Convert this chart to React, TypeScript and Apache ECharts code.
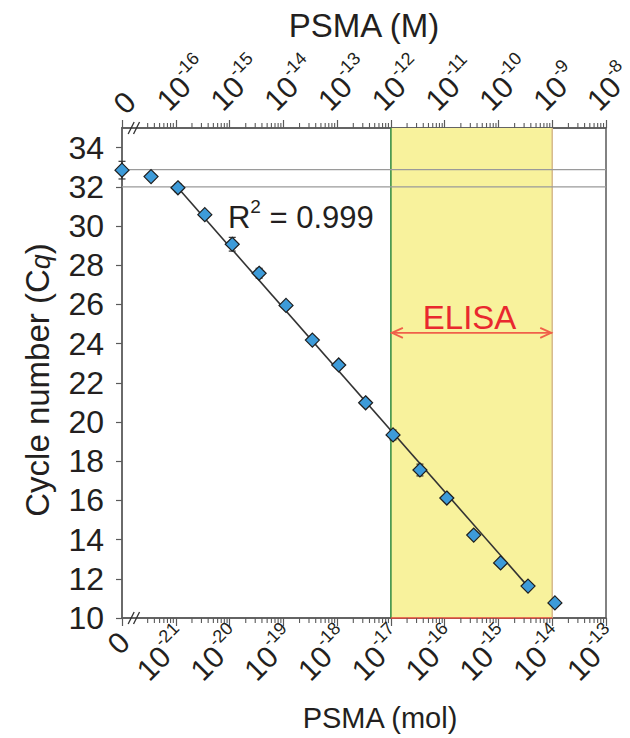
import React, { useEffect, useRef } from "react";
import * as echarts from "echarts";

// x: log10(PSMA, mol); -22 stands for the "0" (blank) sample position
const molLog = [-22, -21.46, -20.96, -20.46, -19.95, -19.45, -18.95, -18.46, -17.97, -17.47, -16.96, -16.46, -15.96, -15.46, -14.96, -14.45, -13.95];
const cq = [32.85, 32.52, 31.95, 30.58, 29.07, 27.59, 25.95, 24.18, 22.91, 20.98, 19.34, 17.55, 16.12, 14.23, 12.81, 11.63, 10.77];
const cqErr = [0.45, 0.15, 0.2, 0.1, 0.35, 0.25, 0.1, 0.1, 0.1, 0.1, 0.25, 0.3, 0.15, 0.15, 0.1, 0.15, 0.1];
const fitLine = [[-20.96, 31.95], [-14.45, 11.6]];
const refLines = [32.88, 32.0];
const elisaRange = [-17, -14];
const molTicks = [-22, -21, -20, -19, -18, -17, -16, -15, -14, -13];
const molarTicks = [-17, -16, -15, -14, -13, -12, -11, -10, -9, -8];
const yTicks = [10, 12, 14, 16, 18, 20, 22, 24, 26, 28, 30, 32, 34];
const r2Text = "0.999";
const elisaLabel = "ELISA";

const FONT = "'Liberation Sans', Arial, Helvetica, sans-serif";
const TXT = "#231f20";
const AX = "#5a5a5a";

function minorTicks(ticks: number[], skipFirst: boolean) {
  const out: number[] = [];
  for (let i = 0; i < ticks.length - 1; i++) {
    for (let k = 2; k <= 9; k++) {
      if (skipFirst && i === 0 && k === 2) continue;
      out.push(ticks[i] + Math.log10(k));
    }
  }
  return out;
}

const tickRich = {
  b: { fontSize: 30, lineHeight: 40, fontFamily: FONT, fill: TXT, color: TXT },
  s: { fontSize: 18, lineHeight: 22, fontFamily: FONT, fill: TXT, color: TXT, verticalAlign: "top" },
};

const tickText = (v: number, zero: number) =>
  Math.round(v) === zero ? "{b|0}" : `{b|10}{s|${Math.round(v)}}`;

export default function App() {
  const ref = useRef<HTMLDivElement>(null);
  useEffect(() => {
    if (!ref.current) return;
    const chart = echarts.init(ref.current, undefined, { renderer: "svg" });
    const yMin = yTicks[0];
    const yMax = 35;
    const bottomMinor = minorTicks(molTicks, true);
    const topMinor = minorTicks(molarTicks, true);
    const option: any = {
      animation: false,
      backgroundColor: "#ffffff",
      grid: {
        left: 122, right: 24, top: 128, bottom: 120, containLabel: false, outerBoundsMode: "none",
        show: true, borderColor: AX, borderWidth: 1.5, backgroundColor: "transparent",
      },
      xAxis: [
        {
          type: "value", position: "bottom", min: molTicks[0], max: molTicks[molTicks.length - 1], interval: 1,
          splitLine: { show: false },
          axisLine: { show: true, lineStyle: { color: AX, width: 1.5 } },
          axisTick: { show: true, length: 8, lineStyle: { color: AX, width: 1.2 } },
          axisLabel: { show: false },
          name: "PSMA (mol)", nameLocation: "middle", nameGap: 85,
          nameTextStyle: { fontSize: 29, fontFamily: FONT, color: TXT, padding: [0, 0, 0, 32] },
        },
        {
          type: "value", position: "top", min: molarTicks[0], max: molarTicks[molarTicks.length - 1], interval: 1,
          splitLine: { show: false },
          axisLine: { show: true, lineStyle: { color: AX, width: 1.5 } },
          axisTick: { show: true, length: 8, lineStyle: { color: AX, width: 1.2 } },
          axisLabel: { show: false },
          name: "PSMA (M)", nameLocation: "middle", nameGap: 86,
          nameTextStyle: { fontSize: 33, fontFamily: FONT, color: TXT },
        },
      ],
      yAxis: {
        type: "value", min: yMin, max: yMax, interval: 2,
        splitLine: { show: false },
        axisLine: { show: true, lineStyle: { color: "#6a6a6a", width: 2 } },
        axisTick: { show: true, length: 6, customValues: yTicks, lineStyle: { color: AX, width: 1.2 } },
        axisLabel: { customValues: yTicks, margin: 18, fontSize: 32, fontFamily: FONT, color: TXT },
        name: "{a|Cycle number (C}{q|q}{a|)}", nameLocation: "middle", nameRotate: 90, nameGap: 68,
        nameTextStyle: {
          padding: [0, 14, 0, 0],
          rich: {
            a: { fontSize: 33, fontFamily: FONT, color: TXT },
            q: { fontSize: 27, fontFamily: FONT, fontStyle: "italic", color: TXT, verticalAlign: "bottom" },
          },
        },
      },
      series: [
        // ELISA band
        {
          type: "custom", z: 1, silent: true, clip: false,
          data: [[elisaRange[0], elisaRange[1]]],
          encode: { x: [0, 1] },
          renderItem: (_p: any, api: any) => {
            const a = api.coord([api.value(0), yMax]);
            const b = api.coord([api.value(1), yMin]);
            return {
              type: "group",
              children: [
                { type: "rect", shape: { x: a[0], y: a[1], width: b[0] - a[0], height: b[1] - a[1] }, style: { fill: "#f8f29c" } },
                { type: "line", shape: { x1: a[0], y1: a[1], x2: a[0], y2: b[1] }, style: { stroke: "#2f8a3c", lineWidth: 1.5 } },
                { type: "line", shape: { x1: b[0], y1: a[1], x2: b[0], y2: b[1] }, style: { stroke: "#d6b98c", lineWidth: 1.5 } },
                { type: "line", shape: { x1: a[0], y1: b[1], x2: b[0], y2: b[1] }, style: { stroke: "#e0473a", lineWidth: 1.5 } },
              ],
            };
          },
        },
        // reference horizontal lines
        {
          type: "custom", z: 2, silent: true,
          data: refLines.map((v) => [molTicks[0], v]),
          encode: { x: 0, y: 1 },
          renderItem: (_p: any, api: any) => {
            const a = api.coord([molTicks[0], api.value(1)]);
            const b = api.coord([molTicks[molTicks.length - 1], api.value(1)]);
            return { type: "line", shape: { x1: a[0], y1: a[1], x2: b[0], y2: b[1] }, style: { stroke: "#9a9a9a", lineWidth: 1.2 } };
          },
        },
        // ELISA arrow + label
        {
          type: "custom", z: 3, silent: true,
          data: [[elisaRange[0], elisaRange[1], 24.55]],
          encode: { x: [0, 1], y: 2 },
          renderItem: (_p: any, api: any) => {
            const a = api.coord([api.value(0), api.value(2)]);
            const b = api.coord([api.value(1), api.value(2)]);
            const c = "#f0604a";
            const hl = 12, hw = 5;
            return {
              type: "group",
              children: [
                { type: "line", shape: { x1: a[0], y1: a[1], x2: b[0], y2: b[1] }, style: { stroke: c, lineWidth: 1.8 } },
                { type: "polyline", shape: { points: [[a[0] + hl, a[1] - hw], [a[0] + 1, a[1]], [a[0] + hl, a[1] + hw]] }, style: { stroke: c, lineWidth: 1.8, fill: "none" } },
                { type: "polyline", shape: { points: [[b[0] - hl, b[1] - hw], [b[0] - 1, b[1]], [b[0] - hl, b[1] + hw]] }, style: { stroke: c, lineWidth: 1.8, fill: "none" } },
                { type: "text", x: (a[0] + b[0]) / 2 - 2, y: a[1] + 1, style: { text: elisaLabel, fill: "#e9282e", font: `33px ${FONT}`, textAlign: "center", textVerticalAlign: "bottom" } },
              ],
            };
          },
        },
        // R^2 label
        {
          type: "custom", z: 3, silent: true,
          data: [[-20.03, 30.45]],
          encode: { x: 0, y: 1 },
          renderItem: (_p: any, api: any) => {
            const p = api.coord([api.value(0), api.value(1)]);
            return {
              type: "text", x: p[0], y: p[1],
              style: {
                text: `{r|R}{s|2}{r| = ${r2Text}}`,
                textAlign: "left", textVerticalAlign: "middle",
                rich: {
                  r: { fontSize: 31, lineHeight: 40, fontFamily: FONT, fill: TXT, color: TXT },
                  s: { fontSize: 19, lineHeight: 24, fontFamily: FONT, fill: TXT, color: TXT, verticalAlign: "top" },
                },
              },
            };
          },
        },
        // fit line
        {
          type: "line", z: 4, silent: true, symbol: "none",
          data: fitLine,
          lineStyle: { color: "#333333", width: 1.6 },
        },
        // error bars
        {
          type: "custom", z: 5, silent: true,
          data: molLog.map((x, i) => [x, cq[i], cqErr[i]]),
          encode: { x: 0, y: 1 },
          renderItem: (_p: any, api: any) => {
            const x = api.value(0), y = api.value(1), e = api.value(2);
            const t = api.coord([x, y + e]);
            const b = api.coord([x, y - e]);
            const w = 3.5;
            const st = { stroke: "#333333", lineWidth: 1.2 };
            return {
              type: "group",
              children: [
                { type: "line", shape: { x1: t[0], y1: t[1], x2: b[0], y2: b[1] }, style: st },
                { type: "line", shape: { x1: t[0] - w, y1: t[1], x2: t[0] + w, y2: t[1] }, style: st },
                { type: "line", shape: { x1: b[0] - w, y1: b[1], x2: b[0] + w, y2: b[1] }, style: st },
              ],
            };
          },
        },
        // points
        {
          type: "scatter", z: 6, silent: true,
          data: molLog.map((x, i) => [x, cq[i]]),
          symbol: "diamond", symbolSize: 14,
          itemStyle: { color: "#3d9bd9", borderColor: "#1e1e1e", borderWidth: 1.2, opacity: 1 },
        },
        // minor ticks, bottom axis
        {
          type: "custom", z: 7, silent: true, clip: false, xAxisIndex: 0,
          data: bottomMinor.map((v) => [v, yMin]),
          encode: { x: 0, y: 1 },
          renderItem: (_p: any, api: any) => {
            const p = api.coord([api.value(0), yMin]);
            return { type: "line", shape: { x1: p[0], y1: p[1], x2: p[0], y2: p[1] + 5 }, style: { stroke: AX, lineWidth: 1.1 } };
          },
        },
        // minor ticks, top axis
        {
          type: "custom", z: 7, silent: true, clip: false, xAxisIndex: 1,
          data: topMinor.map((v) => [v, yMax]),
          encode: { x: 0, y: 1 },
          renderItem: (_p: any, api: any) => {
            const p = api.coord([api.value(0), yMax]);
            return { type: "line", shape: { x1: p[0], y1: p[1], x2: p[0], y2: p[1] - 5 }, style: { stroke: AX, lineWidth: 1.1 } };
          },
        },
        // tick labels, bottom axis (mol)
        {
          type: "custom", z: 8, silent: true, clip: false, xAxisIndex: 0,
          data: molTicks.map((v) => [v, yMin]),
          encode: { x: 0, y: 1 },
          renderItem: (_p: any, api: any) => {
            const v = api.value(0);
            const p = api.coord([v, yMin]);
            const zero = Math.round(v) === molTicks[0];
            return {
              type: "text", x: p[0] + (zero ? 2.5 : 8), y: p[1] + (zero ? 19 : 15), rotation: Math.PI / 4,
              style: { text: tickText(v, molTicks[0]), rich: tickRich, textAlign: "right", textVerticalAlign: "middle" },
            };
          },
        },
        // tick labels, top axis (M)
        {
          type: "custom", z: 8, silent: true, clip: false, xAxisIndex: 1,
          data: molarTicks.map((v) => [v, yMax]),
          encode: { x: 0, y: 1 },
          renderItem: (_p: any, api: any) => {
            const v = api.value(0);
            const p = api.coord([v, yMax]);
            const zero = Math.round(v) === molarTicks[0];
            return {
              type: "text", x: p[0] + (zero ? -3.5 : -14), y: p[1] + (zero ? -19.5 : -23), rotation: Math.PI / 4,
              style: { text: tickText(v, molarTicks[0]), rich: tickRich, textAlign: "left", textVerticalAlign: "middle" },
            };
          },
        },
        // axis break marks
        {
          type: "custom", z: 8, silent: true, clip: false,
          data: [[-21.83, yMin], [-21.73, yMin], [-21.83, yMax], [-21.73, yMax]],
          encode: { x: 0, y: 1 },
          renderItem: (_p: any, api: any) => {
            const p = api.coord([api.value(0), api.value(1)]);
            return { type: "line", shape: { x1: p[0] - 3, y1: p[1] + 6, x2: p[0] + 3, y2: p[1] - 6 }, style: { stroke: "#333", lineWidth: 1.3 } };
          },
        },
      ],
    };
    chart.setOption(option);
    return () => chart.dispose();
  }, []);
  return <div ref={ref} style={{ position: "fixed", left: 0, top: 0, width: 630, height: 738, background: "#fff" }} />;
}
